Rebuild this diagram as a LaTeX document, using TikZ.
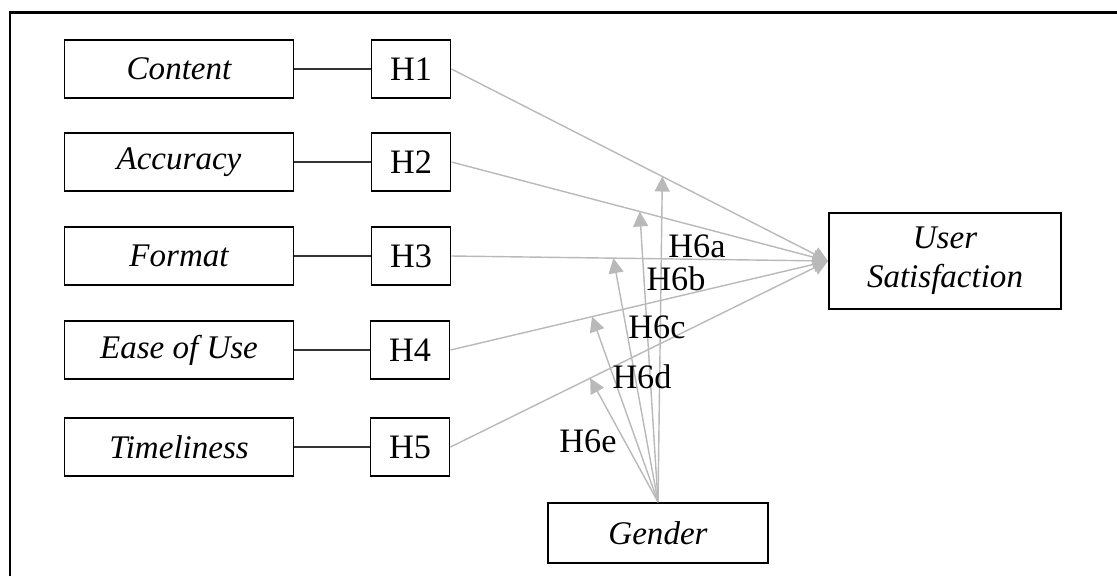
\documentclass[tikz,border=0pt]{standalone}
\usepackage{fontspec}
\setmainfont{Liberation Serif}
\usetikzlibrary{arrows.meta,calc}
\tikzset{
	varbox/.style={draw,line width=1.1pt,minimum width=4.58cm,minimum height=1.16cm,font=\fontsize{18.8}{22}\selectfont\itshape},
	hypbox/.style={draw,line width=1.1pt,minimum width=1.58cm,minimum height=1.16cm},
	effect/.style={draw=gray!55,line width=0.8pt,-{Triangle[length=0.3cm,width=0.3cm]}},
	link/.style={draw=black!80,line width=0.7pt}
}
\begin{document}
\begin{tikzpicture}[x=0.02cm,y=-0.02cm,font=\fontsize{19.5}{22}\selectfont]
	\useasboundingbox (0,0) rectangle (1117,576);
	\draw[line width=1.7pt] (10,576) -- (10,12) -- (1117,12);
	% variables
	\node[varbox] (content) at (179,69) {Content};
	\node[varbox] (accuracy) at (179,162) {Accuracy};
	\node[varbox] (format) at (179,256) {Format};
	\node[varbox] (ease) at (179,350) {Ease of Use};
	\node[varbox] (time) at (179,447) {Timeliness};
	% hypotheses
	\node[hypbox] (h1) at (411,69) {H1};
	\node[hypbox] (h2) at (411,162) {H2};
	\node[hypbox] (h3) at (411,256) {H3};
	\node[hypbox] (h4) at (410,350) {H4};
	\node[hypbox] (h5) at (410,447) {H5};
	\node[varbox,minimum width=4.64cm,minimum height=1.92cm,align=center] (us) at (945,261) {User\\Satisfaction};
	\node[varbox,minimum width=4.4cm,minimum height=1.2cm] (gender) at (658,533) {Gender};
	\draw[link] (content) -- (h1);
	\draw[link] (accuracy) -- (h2);
	\draw[link] (format) -- (h3);
	\draw[link] (ease) -- (h4);
	\draw[link] (time) -- (h5);
	\draw[effect] (h1.east) -- (us.west);
	\draw[effect] (h2.east) -- (us.west);
	\draw[effect] (h3.east) -- (us.west);
	\draw[effect] (h4.east) -- (us.west);
	\draw[effect] (h5.east) -- (us.west);
	% moderating effects of gender
	\coordinate (m1) at ($(h1.east)!0.56!(us.west)$);
	\coordinate (m2) at ($(h2.east)!0.50!(us.west)$);
	\coordinate (m3) at ($(h3.east)!0.43!(us.west)$);
	\coordinate (m4) at ($(h4.east)!0.375!(us.west)$);
	\coordinate (m5) at ($(h5.east)!0.37!(us.west)$);
	\draw[effect] (gender.north) -- (m1);
	\draw[effect] (gender.north) -- (m2);
	\draw[effect] (gender.north) -- (m3);
	\draw[effect] (gender.north) -- (m4);
	\draw[effect] (gender.north) -- (m5);
	\node (l6a) at (697,246) {H6a};
	\node (l6b) at (676,279) {H6b};
	\node (l6c) at (657,327) {H6c};
	\node (l6d) at (642,377) {H6d};
	\node (l6e) at (588,441) {H6e};
\end{tikzpicture}
\end{document}
